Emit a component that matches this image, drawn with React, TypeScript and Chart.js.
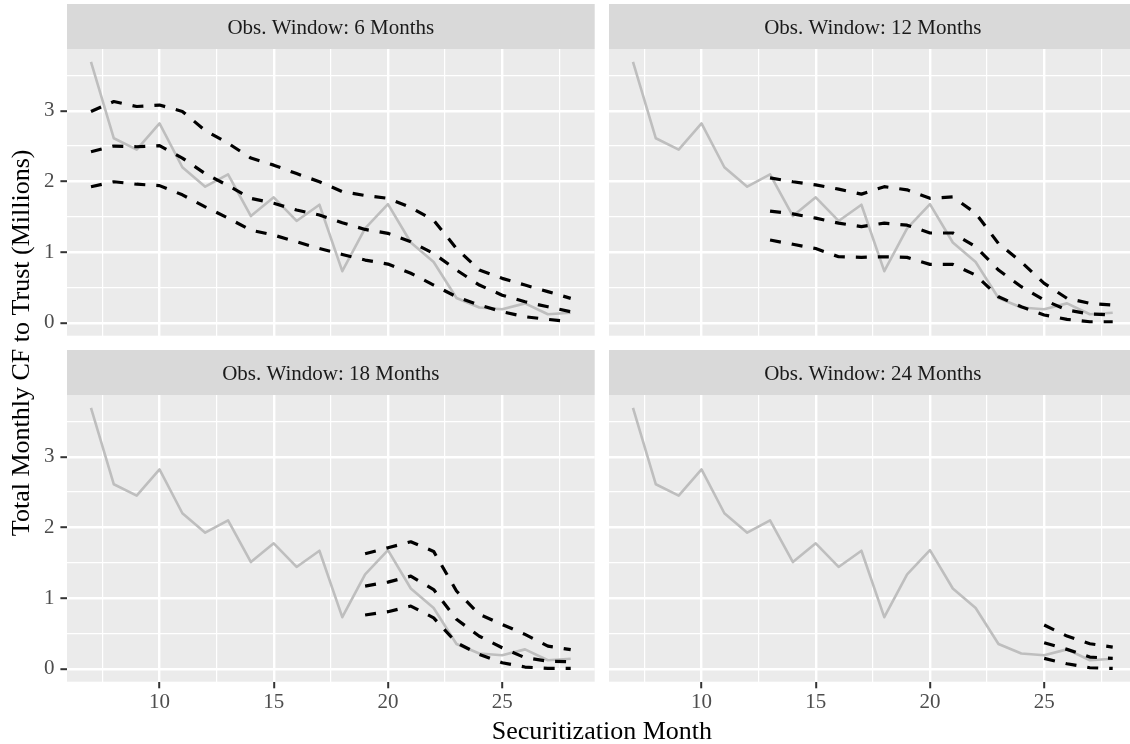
import React, { useEffect, useRef } from 'react';
import { Chart, registerables } from 'chart.js';

Chart.register(...registerables);

// ---------- data ----------
const months = [7, 8, 9, 10, 11, 12, 13, 14, 15, 16, 17, 18, 19, 20, 21, 22, 23, 24, 25, 26, 27, 28];
const actualCF = [3.69, 2.61, 2.45, 2.82, 2.2, 1.925, 2.1, 1.51, 1.775, 1.44, 1.67, 0.73, 1.335, 1.678, 1.135, 0.86, 0.35, 0.215, 0.19, 0.274, 0.12, 0.142];

const w6Months = [7, 8, 9, 10, 11, 12, 13, 14, 15, 16, 17, 18, 19, 20, 21, 22, 23, 24, 25, 26, 27, 28];
const w6Upper = [2.99, 3.13, 3.06, 3.08, 2.99, 2.72, 2.54, 2.33, 2.23, 2.11, 1.995, 1.855, 1.8, 1.76, 1.63, 1.45, 1.05, 0.746, 0.628, 0.533, 0.44, 0.345];
const w6Mid = [2.42, 2.5, 2.49, 2.505, 2.33, 2.11, 1.94, 1.76, 1.69, 1.595, 1.524, 1.415, 1.32, 1.265, 1.146, 0.98, 0.746, 0.533, 0.39, 0.297, 0.226, 0.156];
const w6Lower = [1.925, 1.995, 1.96, 1.94, 1.81, 1.64, 1.48, 1.31, 1.24, 1.146, 1.05, 0.966, 0.887, 0.83, 0.7, 0.533, 0.368, 0.25, 0.156, 0.085, 0.048, 0.014];

const w12Months = [13, 14, 15, 16, 17, 18, 19, 20, 21, 22, 23, 24, 25, 26, 27, 28];
const w12Upper = [2.05, 1.995, 1.95, 1.89, 1.82, 1.925, 1.88, 1.76, 1.78, 1.55, 1.12, 0.86, 0.557, 0.345, 0.274, 0.25];
const w12Mid = [1.58, 1.54, 1.48, 1.41, 1.36, 1.41, 1.38, 1.27, 1.27, 1.075, 0.746, 0.51, 0.32, 0.18, 0.123, 0.11];
const w12Lower = [1.17, 1.11, 1.05, 0.934, 0.925, 0.934, 0.925, 0.826, 0.826, 0.675, 0.368, 0.226, 0.11, 0.048, 0.014, 0.014];

const w18Months = [19, 20, 21, 22, 23, 24, 25, 26, 27, 28];
const w18Upper = [1.627, 1.712, 1.797, 1.66, 1.1, 0.77, 0.627, 0.486, 0.32, 0.27];
const w18Mid = [1.17, 1.226, 1.31, 1.12, 0.7, 0.46, 0.297, 0.156, 0.108, 0.1];
const w18Lower = [0.76, 0.807, 0.887, 0.72, 0.368, 0.203, 0.085, 0.024, 0.005, 0.005];

const w24Months = [25, 26, 27, 28];
const w24Upper = [0.618, 0.462, 0.354, 0.307];
const w24Mid = [0.368, 0.274, 0.165, 0.146];
const w24Lower = [0.146, 0.07, 0.014, 0.005];

const stripLabels = ['Obs. Window: 6 Months', 'Obs. Window: 12 Months', 'Obs. Window: 18 Months', 'Obs. Window: 24 Months'];
const xTickValues = [7.5, 10, 12.5, 15, 17.5, 20, 22.5, 25, 27.5];
const yTickValues = [0, 0.5, 1, 1.5, 2, 2.5, 3, 3.5];
const xTitle = 'Securitization Month';
const yTitle = 'Total Monthly CF to Trust (Millions)';

// ---------- style / layout ----------
const FONT = "'Liberation Serif', 'Times New Roman', serif";
const CANVAS_W = 1140;
const CANVAS_H = 744;
const X_MIN = 5.95;
const X_MAX = 29.05;
const Y_MIN = -0.1834;
const Y_MAX = 3.8733;
const STRIP_H = 45;

type PanelDef = {
  label: string;
  bandMonths: number[];
  bands: number[][];
  left: number;
  top: number;
  right: number;
  bottom: number;
  showX: boolean;
  showY: boolean;
};

const panels: PanelDef[] = [
  { label: stripLabels[0], bandMonths: w6Months, bands: [w6Upper, w6Mid, w6Lower], left: 67, top: 49, right: 594.7, bottom: 335.7, showX: false, showY: true },
  { label: stripLabels[1], bandMonths: w12Months, bands: [w12Upper, w12Mid, w12Lower], left: 609, top: 49, right: 1136.7, bottom: 335.7, showX: false, showY: false },
  { label: stripLabels[2], bandMonths: w18Months, bands: [w18Upper, w18Mid, w18Lower], left: 67, top: 395, right: 594.7, bottom: 681.7, showX: true, showY: true },
  { label: stripLabels[3], bandMonths: w24Months, bands: [w24Upper, w24Mid, w24Lower], left: 609, top: 395, right: 1136.7, bottom: 681.7, showX: true, showY: false },
];

const stripPlugin = {
  id: 'strip',
  beforeDraw(chart: any, _args: any, opts: any) {
    const { ctx, chartArea } = chart;
    ctx.save();
    ctx.fillStyle = '#D9D9D9';
    ctx.fillRect(chartArea.left, chartArea.top - STRIP_H, chartArea.right - chartArea.left, STRIP_H);
    ctx.fillStyle = '#EBEBEB';
    ctx.fillRect(chartArea.left, chartArea.top, chartArea.right - chartArea.left, chartArea.bottom - chartArea.top);
    ctx.fillStyle = '#1A1A1A';
    ctx.font = `21px ${FONT}`;
    ctx.textAlign = 'center';
    ctx.textBaseline = 'alphabetic';
    ctx.fillText(opts.label, (chartArea.left + chartArea.right) / 2, chartArea.top - STRIP_H / 2 + 7);
    ctx.restore();
  },
};

const titlePlugin = {
  id: 'figTitles',
  afterDraw(chart: any, _args: any, opts: any) {
    if (!opts || !opts.enabled) return;
    const { ctx } = chart;
    ctx.save();
    ctx.fillStyle = '#000000';
    ctx.font = `26px ${FONT}`;
    ctx.textAlign = 'center';
    ctx.textBaseline = 'alphabetic';
    ctx.fillText(xTitle, (67 + 1136.7) / 2, 738.5);
    // y title spans the strip rows as well as the panels
    ctx.translate(28.5, (49 - STRIP_H + 681.7) / 2);
    ctx.rotate(-Math.PI / 2);
    ctx.fillText(yTitle, 0, 0);
    ctx.restore();
  },
};

function zeroPad(s: any) {
  s.paddingLeft = 0;
  s.paddingRight = 0;
  s.paddingTop = 0;
  s.paddingBottom = 0;
}

function buildConfig(p: PanelDef, withTitles: boolean): any {
  const toPts = (xs: number[], ys: number[]) => xs.map((x, i) => ({ x, y: ys[i] }));
  const dashed = p.bands.map((b) => ({
    data: toPts(p.bandMonths, b),
    borderColor: '#000000',
    borderWidth: 3.2,
    borderDash: [11, 11],
    borderCapStyle: 'butt',
    borderJoinStyle: 'round',
    pointRadius: 0,
    fill: false,
    tension: 0,
  }));
  const actual = {
    data: toPts(months, actualCF),
    borderColor: '#BEBEBE',
    borderWidth: 2.6,
    borderCapStyle: 'butt',
    borderJoinStyle: 'round',
    pointRadius: 0,
    fill: false,
    tension: 0,
  };
  const xAxisH = p.showX ? CANVAS_H - p.bottom : 0;
  return {
    type: 'line',
    data: { datasets: [...dashed, actual] },
    plugins: [stripPlugin, titlePlugin],
    options: {
      animation: false,
      responsive: false,
      devicePixelRatio: 1,
      events: [],
      layout: {
        padding: {
          left: p.showY ? 0 : p.left,
          top: p.top,
          right: CANVAS_W - p.right,
          bottom: p.showX ? 0 : CANVAS_H - p.bottom,
        },
      },
      plugins: {
        legend: { display: false },
        tooltip: { enabled: false },
        title: { display: false },
        strip: { label: p.label },
        figTitles: { enabled: withTitles },
      },
      scales: {
        x: {
          type: 'linear',
          min: X_MIN,
          max: X_MAX,
          afterBuildTicks: (s: any) => {
            s.ticks = xTickValues.map((v) => ({ value: v }));
          },
          afterFit: (s: any) => {
            s.height = xAxisH;
            zeroPad(s);
          },
          border: { display: false },
          grid: {
            color: '#FFFFFF',
            lineWidth: (c: any) => (c.tick && c.tick.value % 5 === 0 ? 2.4 : 1.2),
            drawTicks: p.showX,
            tickLength: 6.6,
            tickWidth: 2,
            tickColor: (c: any) => (c.tick && c.tick.value % 5 === 0 ? '#333333' : 'rgba(0,0,0,0)'),
          },
          ticks: {
            display: p.showX,
            autoSkip: false,
            maxRotation: 0,
            minRotation: 0,
            padding: 2,
            color: '#4D4D4D',
            font: { family: FONT, size: 21 },
            callback: (v: any) => (Number(v) % 5 === 0 ? String(v) : ''),
          },
        },
        y: {
          type: 'linear',
          min: Y_MIN,
          max: Y_MAX,
          afterBuildTicks: (s: any) => {
            s.ticks = yTickValues.map((v) => ({ value: v }));
          },
          afterFit: (s: any) => {
            s.width = p.showY ? p.left : 0;
            zeroPad(s);
          },
          border: { display: false },
          grid: {
            color: '#FFFFFF',
            lineWidth: (c: any) => (c.tick && Number.isInteger(c.tick.value) ? 2.4 : 1.2),
            drawTicks: p.showY,
            tickLength: 6.6,
            tickWidth: 2,
            tickColor: (c: any) => (c.tick && Number.isInteger(c.tick.value) ? '#333333' : 'rgba(0,0,0,0)'),
          },
          ticks: {
            display: p.showY,
            autoSkip: false,
            padding: 6,
            color: '#4D4D4D',
            font: { family: FONT, size: 21 },
            callback: (v: any) => (Number.isInteger(Number(v)) ? String(v) : ''),
          },
        },
      },
    },
  };
}

export default function App() {
  const refs = useRef<(HTMLCanvasElement | null)[]>([]);

  useEffect(() => {
    const charts: Chart[] = [];
    panels.forEach((p, i) => {
      const el = refs.current[i];
      if (el) charts.push(new Chart(el, buildConfig(p, i === 2)));
    });
    return () => {
      charts.forEach((c) => c.destroy());
    };
  }, []);

  return (
    <div
      style={{
        position: 'fixed',
        left: 0,
        top: 0,
        width: 1130,
        height: 744,
        overflow: 'hidden',
        background: '#FFFFFF',
      }}
    >
      {panels.map((_, i) => (
        <canvas
          key={i}
          ref={(el) => {
            refs.current[i] = el;
          }}
          width={CANVAS_W}
          height={CANVAS_H}
          style={{ position: 'absolute', left: 0, top: 0, width: CANVAS_W, height: CANVAS_H }}
        />
      ))}
    </div>
  );
}
